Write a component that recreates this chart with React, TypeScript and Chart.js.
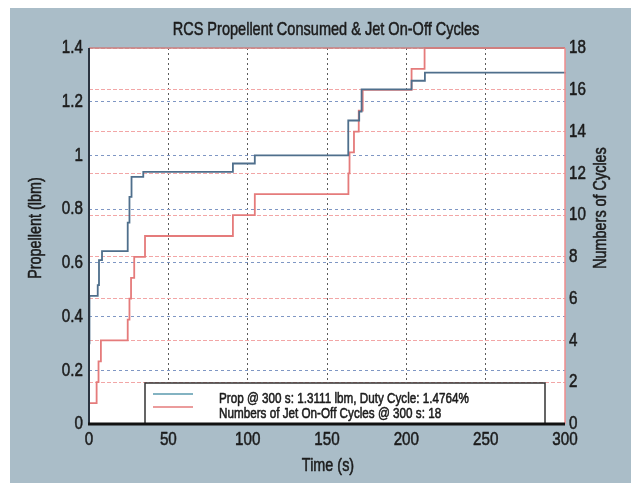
import React, { useEffect, useRef } from "react";
import { Chart, registerables } from "chart.js";

Chart.register(...registerables);

const TITLE = "RCS Propellent Consumed & Jet On-Off Cycles";
const X_TITLE = "Time (s)";
const Y_LEFT_TITLE = "Propellent (lbm)";
const Y_RIGHT_TITLE = "Numbers of Cycles";
const LEGEND_LABELS = [
  "Prop @ 300 s: 1.3111 lbm, Duty Cycle: 1.4764%",
  "Numbers of Jet On-Off Cycles @ 300 s: 18",
];

// Propellant consumed (lbm): each value holds from its time until the next time
const propTimes = [0, 0.3, 5.5, 6.3, 8.2, 24.4, 25.5, 26.8, 34.2, 90.7, 104.5, 163.4, 170.3, 171.8, 203.3, 211.7, 300];
const propValues = [0.3, 0.477, 0.517, 0.61, 0.644, 0.75, 0.846, 0.92, 0.939, 0.97, 1.0, 1.13, 1.163, 1.246, 1.278, 1.308, 1.3111];

// Jet on-off cycles: each value holds from its time until the next time
const cycleTimes = [0, 4.8, 6.0, 7.5, 24.4, 25.5, 26.5, 28.5, 35.3, 90.7, 104.5, 163.5, 164.2, 167, 170, 172.5, 203.3, 211.5, 300];
const cycleValues = [1, 2, 3, 4, 5, 6, 7, 8, 9, 10, 11, 12, 13, 14, 15, 16, 17, 18, 18];

const X_MIN = 0, X_MAX = 300, X_STEP = 50;
const YL_MIN = 0, YL_MAX = 1.4, YL_STEP = 0.2;
const YR_MIN = 0, YR_MAX = 18, YR_STEP = 2;

const FONT = '"Liberation Sans", Arial, sans-serif';
const SX = 0.8; // horizontal squeeze to imitate the condensed face
const BG = "#aabdc8";
const PROP_COLOR = "#4f6f8c";
const CYCLE_COLOR = "#e57b7b";
const TEXT = "#1c1c1c";

function txt(ctx: CanvasRenderingContext2D, s: string, x: number, y: number, size: number, align: CanvasTextAlign, rotate = false, sx = SX) {
  ctx.save();
  ctx.translate(x, y);
  if (rotate) ctx.rotate(-Math.PI / 2);
  ctx.scale(sx, 1);
  ctx.font = `${size}px ${FONT}`;
  ctx.textAlign = align;
  ctx.fillStyle = TEXT;
  ctx.strokeStyle = TEXT;
  ctx.lineWidth = 0.55;
  ctx.lineJoin = "round";
  ctx.fillText(s, 0, 0);
  ctx.strokeText(s, 0, 0);
  ctx.restore();
}

function fmtL(v: number) {
  return String(Math.round(v * 10) / 10);
}

export default function App() {
  const ref = useRef<HTMLCanvasElement | null>(null);

  useEffect(() => {
    if (!ref.current) return;

    const decor = {
      id: "decor",
      beforeDraw(chart: any) {
        const { ctx, chartArea: a, width, height } = chart;
        ctx.save();
        ctx.fillStyle = BG;
        ctx.fillRect(0, 0, width, height);
        ctx.fillStyle = "#ffffff";
        ctx.fillRect(a.left, a.top, a.right - a.left, a.bottom - a.top);
        ctx.restore();
      },
      afterDatasetsDraw(chart: any) {
        const { ctx, chartArea: a, scales } = chart;
        ctx.save();
        // legend box
        const lx0 = a.left + 56, lx1 = a.left + 456, ly0 = a.bottom - 41, ly1 = a.bottom;
        ctx.fillStyle = "#ffffff";
        ctx.fillRect(lx0, ly0, lx1 - lx0, ly1 - ly0);
        ctx.strokeStyle = "#333333";
        ctx.lineWidth = 1.5;
        ctx.beginPath();
        ctx.moveTo(lx0, ly1);
        ctx.lineTo(lx0, ly0);
        ctx.lineTo(lx1, ly0);
        ctx.lineTo(lx1, ly1);
        ctx.stroke();
        ctx.lineWidth = 1.5;
        ctx.strokeStyle = "#5a9aae";
        ctx.beginPath();
        ctx.moveTo(lx0 + 8, ly0 + 11);
        ctx.lineTo(lx0 + 48, ly0 + 11);
        ctx.stroke();
        ctx.strokeStyle = CYCLE_COLOR;
        ctx.beginPath();
        ctx.moveTo(lx0 + 8, ly0 + 24);
        ctx.lineTo(lx0 + 48, ly0 + 24);
        ctx.stroke();
        ctx.textBaseline = "alphabetic";
        txt(ctx, LEGEND_LABELS[0], lx0 + 74, ly0 + 20, 14, "left", false, 0.835);
        txt(ctx, LEGEND_LABELS[1], lx0 + 74, ly0 + 35, 14, "left", false, 0.835);

        // borders
        ctx.lineWidth = 1.5;
        ctx.strokeStyle = "#c98080";
        ctx.beginPath();
        ctx.moveTo(a.left, a.top);
        ctx.lineTo(a.right, a.top);
        ctx.stroke();
        ctx.strokeStyle = "#f08c8c";
        ctx.beginPath();
        ctx.moveTo(a.right, a.top);
        ctx.lineTo(a.right, a.bottom);
        ctx.stroke();
        ctx.lineWidth = 2;
        ctx.strokeStyle = "#2b3440";
        ctx.beginPath();
        ctx.moveTo(a.left, a.top);
        ctx.lineTo(a.left, a.bottom);
        ctx.stroke();
        ctx.lineWidth = 3;
        ctx.strokeStyle = "#111111";
        ctx.beginPath();
        ctx.moveTo(a.left - 1, a.bottom);
        ctx.lineTo(a.right, a.bottom);
        ctx.stroke();

        // tick labels
        ctx.textBaseline = "middle";
        for (const t of scales.x.ticks) {
          txt(ctx, String(t.value), scales.x.getPixelForValue(t.value), a.bottom + 16, 19, "center");
        }
        for (const t of scales.y.ticks) {
          txt(ctx, fmtL(t.value), a.left - 6, scales.y.getPixelForValue(t.value), 19, "right");
        }
        for (const t of scales.y1.ticks) {
          txt(ctx, String(t.value), a.right + 4, scales.y1.getPixelForValue(t.value), 19, "left");
        }

        // titles
        txt(ctx, TITLE, (a.left + a.right) / 2 - 1, a.top - 18, 19, "center", false, 0.765);
        txt(ctx, X_TITLE, (a.left + a.right) / 2 + 1, a.bottom + 42, 18, "center");
        txt(ctx, Y_LEFT_TITLE, a.left - 53, (a.top + a.bottom) / 2 - 8, 18, "center", true);
        txt(ctx, Y_RIGHT_TITLE, a.right + 36, (a.top + a.bottom) / 2 - 28, 18, "center", true);
        ctx.restore();
      },
    };

    const chart = new Chart(ref.current, {
      type: "line",
      data: {
        datasets: [
          {
            label: LEGEND_LABELS[0],
            data: propTimes.map((t, i) => ({ x: t, y: propValues[i] })),
            yAxisID: "y",
            borderColor: PROP_COLOR,
            borderWidth: 1.8,
            pointRadius: 0,
            stepped: "before",
            fill: false,
            clip: 3,
          },
          {
            label: LEGEND_LABELS[1],
            data: cycleTimes.map((t, i) => ({ x: t, y: cycleValues[i] })),
            yAxisID: "y1",
            borderColor: CYCLE_COLOR,
            borderWidth: 1.8,
            pointRadius: 0,
            stepped: "before",
            fill: false,
            clip: 3,
          },
        ],
      },
      options: {
        animation: false,
        responsive: true,
        maintainAspectRatio: false,
        layout: { padding: { top: 40, left: 0, right: 0, bottom: 0 } },
        plugins: {
          legend: { display: false },
          title: { display: false },
          tooltip: { enabled: false },
        },
        scales: {
          x: {
            type: "linear",
            min: X_MIN,
            max: X_MAX,
            ticks: { stepSize: X_STEP, display: false },
            grid: {
              color: (c: any) => (c.tick && (c.tick.value === X_MIN || c.tick.value === X_MAX) ? "rgba(0,0,0,0)" : "#5c5c5c"),
              lineWidth: 1,
              drawTicks: false,
            },
            border: { display: false, dash: [2, 3] },
            afterFit: (s: any) => {
              s.height = 59;
            },
          },
          y: {
            type: "linear",
            position: "left",
            min: YL_MIN,
            max: YL_MAX,
            ticks: { stepSize: YL_STEP, display: false },
            grid: { color: "#7f97c4", lineWidth: 1, drawTicks: false },
            border: { display: false, dash: [3, 3] },
            afterFit: (s: any) => {
              s.width = 79;
            },
          },
          y1: {
            type: "linear",
            position: "right",
            min: YR_MIN,
            max: YR_MAX,
            ticks: { stepSize: YR_STEP, display: false },
            grid: { color: "#f2a6a6", lineWidth: 1, drawTicks: false, drawOnChartArea: true },
            border: { display: false, dash: [4, 2] },
            afterFit: (s: any) => {
              s.width = 66;
            },
          },
        },
      },
      plugins: [decor],
    } as any);

    return () => chart.destroy();
  }, []);

  return (
    <div style={{ position: "fixed", left: 10, top: 8, width: 621, height: 475 }}>
      <canvas ref={ref} />
    </div>
  );
}
